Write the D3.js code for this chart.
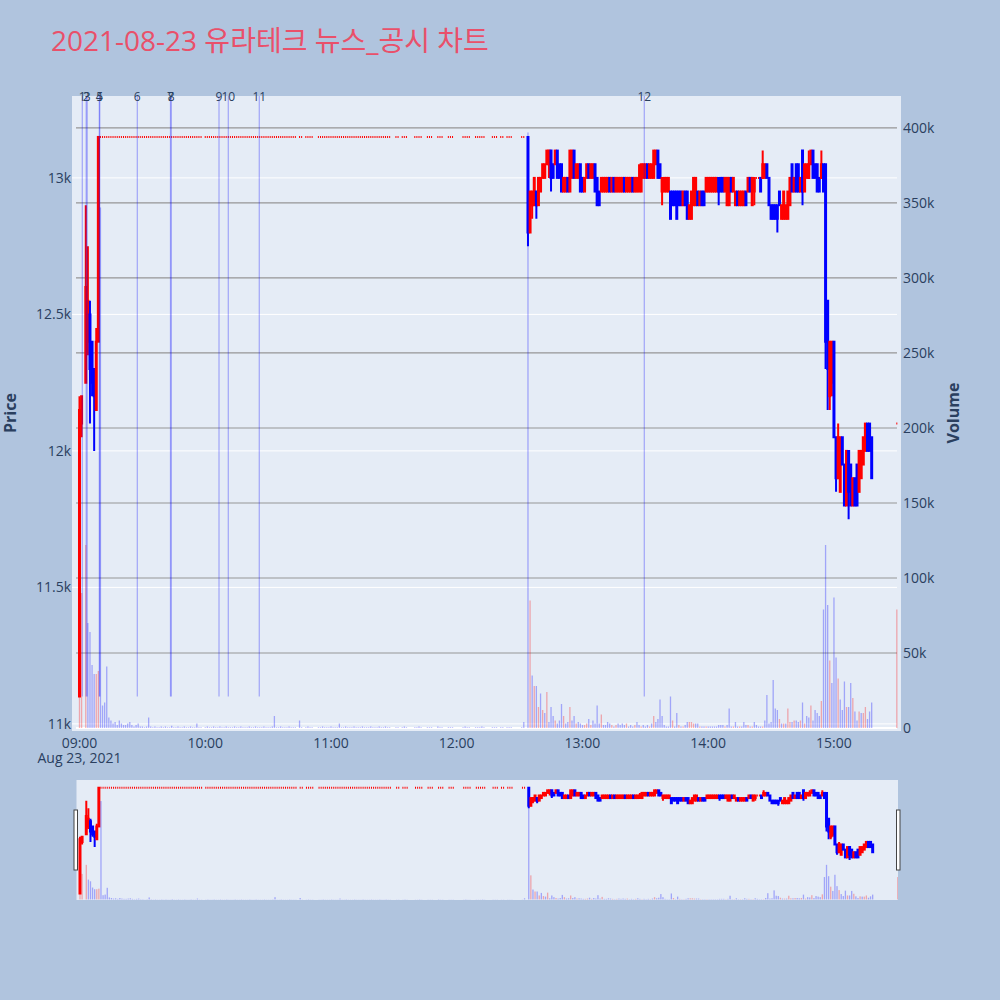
<!DOCTYPE html>
<html><head><meta charset="utf-8">
<script src="https://cdn.jsdelivr.net/npm/d3@7"></script>
<style>body{margin:0;background:#b0c4de;} svg{display:block;font-family:"Open Sans","Noto Sans CJK KR",sans-serif;}</style>
</head><body><svg id="c" width="1000" height="1000"></svg>
<script>
const chartTitle = "2021-08-23 유라테크 뉴스_공시 차트";
const day = "2021-08-23";
const dateLabel = "Aug 23, 2021";

// [time, open, high, low, close, volume(k)]
const openCandles = [
["09:00",11100,12200,11100,12150,92],
["09:01",12100,12200,12050,12200,90],
["09:03",12250,12900,12250,12600,122],
["09:04",12400,12750,12350,12550,70],
["09:05",12500,12550,12100,12300,64],
["09:06",12400,12400,12200,12250,42],
["09:07",12300,12300,12000,12200,36],
["09:08",12150,12450,12150,12400,36],
["09:09",12400,13150,12400,13150,38]
];

const limitPrice = 13150;
const limitRuns = [["09:10","09:58"],["10:00","10:43"],["10:45","10:46"],["10:48","10:51"],["10:54","11:28"],
["11:31","11:32"],["11:34","11:36"],["11:40","11:43"],["11:46","11:48"],["11:51","11:53"],["11:56","11:58"],
["12:03","12:06"],["12:09","12:13"],["12:17","12:19"],["12:21","12:22"],["12:24","12:26"],["12:31","12:32"]];
const limitVolumes = [
[347,15,17,41,7,5,3,4,2,5, 3,2,2,3,4,2,1,2,3,1, 1,.5,1,7,1,.5,1,.5,.5,1, .5,1,.5,.5,1.5,.5,.5,1,.5,.5, 1,.5,.5,1,.5,.5,3,.5,.5],
[.5,1,.5,.5,1,.5,.5,1,.5,.5, 1,.5,.5,.5,1,.5,.5,1,.5,.5, .5,1,.5,.5,1,.5,.5,.5,1,.5, .5,.5,1,8,.5,.5,1,.5,.5,.5, 1,.5,.5,.5],
[5,.5],[.5,1,.5,.5],
[.5,.5,1,.5,.5,.5,1,.5,.5,.5, 3,.5,.5,1,.5,.5,.5,1,.5,.5, .5,1,.5,.5,.5,1,.5,.5,.5,1, .5,.5,1,.5,.5],
[.5,.5],[.5,1,.5],[.5,.5,1,.5],[.5,.5,.5],[1,.5,.5],[.5,.5,.5],[.5,1,.5,.5],[.5,.5,.5,1,.5],[.5,.5,.5],[.5,.5],[.5,.5,.5],[.5,4]
];

const pmCandles = [
["12:34",13150,13150,12750,12800,397],["12:35",12800,12950,12800,12950,85],["12:36",12900,12950,12850,12950,35],
["12:37",12900,13000,12900,13000,28],["12:38",12950,12950,12850,12900,28],["12:39",12900,13000,12900,13000,14],
["12:40",12950,13000,12950,13000,23],["12:41",13000,13050,13000,13050,12],["12:42",13000,13050,13000,13050,10],
["12:43",13050,13100,13050,13100,24],["12:44",13050,13100,13000,13100,4],["12:45",13100,13100,12950,13000,14],
["12:46",13050,13050,13000,13000,8],["12:47",13050,13100,13050,13100,5],["12:48",13100,13100,13000,13000,3],
["12:49",13050,13050,13000,13000,5],["12:50",13050,13050,12950,12950,16],["12:51",12950,13000,12950,13000,8],
["12:52",12950,13000,12950,13000,3],["12:53",13000,13000,12950,12950,4],["12:54",12950,13100,12950,13100,14],
["12:55",13000,13100,13000,13100,5],["12:56",13100,13100,13000,13000,8],["12:57",13000,13050,13000,13050,3],
["12:58",13000,13050,13000,13050,4],["12:59",13050,13050,12950,12950,3],["13:00",13000,13000,12950,12950,2],
["13:01",12950,13000,12950,13000,2],["13:02",13000,13050,13000,13050,3],["13:03",13050,13050,13000,13000,6],
["13:04",13000,13050,13000,13050,2],["13:05",13000,13050,13000,13050,5],["13:06",13050,13050,12950,12950,3],
["13:07",13000,13000,12900,12900,15],["13:08",12950,12950,12900,12900,3],["13:09",12950,13000,12950,13000,9],
["13:10",12950,13000,12950,13000,2],["13:11",12950,13000,12950,13000,2],["13:12",12950,13000,12950,13000,4],
["13:13",13000,13000,12950,12950,3],["13:14",12950,13000,12950,13000,2],["13:15",13000,13000,12950,12950,1],
["13:16",12950,13000,12950,13000,2],["13:17",12950,13000,12950,13000,3],["13:18",12950,13000,12950,13000,2],
["13:19",12950,13000,12950,13000,3],["13:20",13000,13000,12950,12950,2],["13:21",12950,13000,12950,13000,3],
["13:22",12950,13000,12950,13000,1],["13:23",12950,13000,12950,13000,2],["13:24",13000,13000,12950,12950,1],
["13:25",12950,13000,12950,13000,2],["13:26",12950,13000,12950,13000,4],["13:27",12950,13050,12950,13000,2],
["13:28",12950,13050,12950,13050,1],["13:29",13000,13050,13000,13050,2],["13:30",13000,13050,13000,13050,1],
["13:31",13050,13050,13000,13000,2],["13:32",13000,13050,13000,13050,1],["13:33",13000,13050,13000,13050,3],
["13:34",13000,13100,13000,13100,8],["13:35",13050,13100,13050,13100,4],["13:36",13100,13100,13000,13000,6],
["13:37",13050,13050,13000,13000,19],["13:38",12950,13000,12900,13000,8],["13:39",12950,13000,12950,13000,2],
["13:40",12950,13000,12950,13000,1],["13:41",12950,13000,12950,13000,1],["13:42",12950,12950,12850,12850,21],
["13:43",12950,12950,12900,12900,5],["13:44",12950,12950,12900,12900,1],["13:45",12950,12950,12850,12850,10],
["13:46",12950,12950,12900,12900,2],["13:47",12950,12950,12900,12900,1],["13:48",12900,12950,12900,12950,1],
["13:49",12950,12950,12900,12900,2],["13:50",12950,12950,12850,12850,4],["13:51",12850,12900,12850,12900,4],
["13:52",12850,12950,12850,12950,4],["13:53",12900,13000,12900,13000,3],["13:54",12900,13000,12900,13000,3],
["13:55",12950,12950,12900,12900,3],["13:56",12900,12950,12900,12950,1],["13:57",12950,12950,12900,12900,1],
["13:58",12950,12950,12900,12900,1],["13:59",12950,13000,12950,13000,1],["14:00",12950,13000,12950,13000,1],
["14:01",12950,13000,12950,13000,1],["14:02",12950,13000,12950,13000,1],["14:03",12950,13000,12950,13000,1],
["14:04",12950,13000,12950,13000,1],["14:05",13000,13000,12900,12950,2],["14:06",13000,13000,12950,12950,2],
["14:07",13000,13000,12950,12950,2],["14:08",12950,13000,12950,13000,1],["14:09",12900,13000,12900,13000,2],
["14:10",12900,13000,12900,13000,13],["14:11",13000,13000,12950,12950,1],["14:12",12950,13000,12950,13000,1],
["14:13",12900,12950,12900,12950,4],["14:14",12950,12950,12900,12900,1],["14:15",12900,12950,12900,12950,1],
["14:16",12900,12950,12900,12950,1],["14:17",12900,12950,12900,12950,4],["14:18",12950,12950,12900,12900,2],
["14:19",12950,13000,12950,13000,2],["14:20",13000,13000,12950,12950,1],["14:21",12900,13000,12900,13000,1],
["14:22",12950,13000,12900,13000,4],["14:23",13000,13000,13000,13000,2],["14:24",13000,13000,13000,13000,1],
["14:25",13000,13000,12950,12950,1],["14:26",13000,13100,13000,13050,1],["14:27",13000,13050,13000,13050,5],
["14:28",13050,13050,13000,13000,22],["14:29",13000,13000,12900,12900,3],["14:30",12900,12900,12850,12850,4],
["14:31",12900,12900,12850,12850,32],["14:32",12900,12900,12850,12850,13],["14:33",12900,12900,12800,12850,12],
["14:34",12950,12950,12900,12900,6],["14:35",12850,12900,12850,12900,3],["14:36",12850,12950,12850,12950,3],
["14:37",12850,12900,12850,12900,3],["14:38",12850,12950,12850,12950,13],["14:39",12900,13000,12900,13000,4],
["14:40",13050,13050,12950,12950,4],["14:41",12950,13000,12950,13000,5],["14:42",13050,13050,12950,12950,5],
["14:43",13050,13050,12950,12950,4],["14:44",12950,13000,12950,13000,5],["14:45",13100,13100,12900,12950,17],
["14:46",12950,13050,12950,13050,3],["14:47",13000,13050,13000,13050,8],["14:48",13000,13100,13000,13050,7],
["14:49",13050,13100,13050,13100,15],["14:50",13100,13100,13000,13000,5],["14:51",13050,13050,13000,13000,12],
["14:52",13050,13050,12950,12950,10],["14:53",13000,13000,12950,12950,8],["14:54",13000,13100,13000,13050,18],
["14:55",13050,13050,12950,12950,79],["14:56",13050,13050,12300,12400,122],["14:57",12550,12550,12150,12300,82],
["14:58",12200,12400,12150,12400,45],["14:59",12250,12400,12200,12400,30],["15:00",12400,12400,12050,12050,87],
["15:01",12050,12050,11850,11900,47],["15:02",11900,12100,11900,12050,33],["15:03",11850,12050,11850,12050,19],
["15:04",12050,12050,11950,11950,12],["15:05",11950,11950,11800,11800,31],["15:06",11800,12000,11800,12000,14],
["15:07",12000,12000,11750,11850,14],["15:08",11950,11950,11800,11800,30],["15:09",11800,11900,11800,11900,20],
["15:10",11900,11900,11800,11800,11],["15:11",11950,11950,11800,11800,5],["15:12",11850,12000,11850,12000,11],
["15:13",11900,12000,11900,12000,10],["15:14",11950,12050,11950,12050,10],["15:15",12000,12100,12000,12100,14],
["15:16",12100,12100,12000,12000,6],["15:17",12100,12100,12000,12000,11],["15:18",12050,12050,11900,11900,17]
];
const closeCandle = ["15:30",12100,12100,12100,12100,79];

const newsTimes = ["09:01:20","09:03:12","09:03:40","09:09:27","09:09:41","09:27:35","09:43:25","09:43:48","10:06:34","10:11:00","10:25:47","13:29:30"];
const newsLabels = ["1","2","3","4","5","6","7","8","9","10","11","12"];
const newsLineLow = 11100;

const priceTicks = [11000,11500,12000,12500,13000];
const priceTickLabels = ["11k","11.5k","12k","12.5k","13k"];
const volumeTicks = [0,50,100,150,200,250,300,350,400];
const volumeTickLabels = ["0","50k","100k","150k","200k","250k","300k","350k","400k"];
const timeTicks = ["09:00","10:00","11:00","12:00","13:00","14:00","15:00"];
const priceDomain = [10974, 13300];
const volumeDomain = [-2, 421.3];
const timeDomain = ["08:58:20","15:30:05"];

const UP = "#ff0000", DOWN = "#0000ff", TXT = "#2a3f5f";

const fmt = d3.timeParse("%Y-%m-%d %H:%M:%S");
const parseT = t => fmt(`${day} ${t.length === 5 ? t + ":00" : t}`);

const rows = [];
const addRow = r => rows.push({t: parseT(r[0]), o: r[1], h: r[2], l: r[3], c: r[4], v: r[5]});
openCandles.forEach(addRow);
limitRuns.forEach((run, i) => {
  const mins = d3.timeMinute.range(parseT(run[0]), d3.timeMinute.offset(parseT(run[1]), 1));
  mins.forEach((t, j) => rows.push({t, o: limitPrice, h: limitPrice, l: limitPrice, c: limitPrice, v: limitVolumes[i][j] || 0}));
});
pmCandles.forEach(addRow);
addRow(closeCandle);
rows.sort((a, b) => a.t - b.t);
let prevC = null, prevDir = "up";
rows.forEach(r => {
  let dir;
  if (r.c > r.o) dir = "up";
  else if (r.c < r.o) dir = "down";
  else if (prevC !== null && r.c > prevC) dir = "up";
  else if (prevC !== null && r.c < prevC) dir = "down";
  else dir = prevDir;
  r.dir = dir;
  r.vdir = (prevC === null || r.c > prevC) ? "up" : "down";
  prevC = r.c; prevDir = dir;
});

const svg = d3.select("#c");
svg.append("rect").attr("width", 1000).attr("height", 1000).attr("fill", "#b0c4de");

const X0 = 76, X1 = 897, Y0 = 96, Y1 = 731;
const x = d3.scaleTime().domain(timeDomain.map(parseT)).range([X0, X1]);
const yP = d3.scaleLinear().domain(priceDomain).range([Y1, Y0]);
const yV = d3.scaleLinear().domain(volumeDomain).range([Y1, Y0]);

// title
svg.append("text").attr("x", 51).attr("y", 51).attr("font-size", 28).attr("fill", "#e9506a").text(chartTitle);

// plot bg
svg.append("rect").attr("x", 72).attr("y", Y0).attr("width", 901 - 72).attr("height", Y1 - Y0).attr("fill", "#e5ecf6");

const defs = svg.append("defs");
defs.append("clipPath").attr("id", "clipMain").append("rect").attr("x", 72).attr("y", Y0).attr("width", 901 - 72).attr("height", Y1 - Y0);
defs.append("clipPath").attr("id", "clipSlider").append("rect").attr("x", 76).attr("y", 780).attr("width", 822).attr("height", 120);

// grid
svg.append("g").selectAll("line").data(priceTicks).join("line")
  .attr("x1", 72).attr("x2", X1).attr("y1", d => yP(d)).attr("y2", d => yP(d))
  .attr("stroke", "#ffffff").attr("stroke-width", 1);
svg.append("g").selectAll("line").data(volumeTicks).join("line")
  .attr("x1", X0).attr("x2", X1).attr("y1", d => yV(d)).attr("y2", d => yV(d))
  .attr("stroke", d => d === 0 ? "#ffffff" : "#969696").attr("stroke-width", d => d === 0 ? 2 : 1.2);

const BW = 1.0, VW = 1.3;
function drawCandles(g, xs, ys) {
  g.selectAll("path").data(rows).join("path")
    .attr("d", r => {
      const cx = xs(r.t), yo = ys(r.o), yc = ys(r.c), yh = ys(r.h), yl = ys(r.l);
      const top = Math.min(yo, yc), bot = Math.max(yo, yc);
      let d = `M${cx - BW / 2},${yo}H${cx + BW / 2}V${yc}H${cx - BW / 2}Z`;
      if (yh < top) d += `M${cx},${yh}V${top}`;
      if (yl > bot) d += `M${cx},${yl}V${bot}`;
      return d;
    })
    .attr("fill", r => r.dir === "up" ? UP : DOWN)
    .attr("stroke", r => r.dir === "up" ? UP : DOWN)
    .attr("stroke-width", 2);
}
function drawVolume(g, xs, ys) {
  g.selectAll("rect").data(rows).join("rect")
    .attr("x", r => xs(r.t) - VW / 2).attr("width", VW)
    .attr("y", r => ys(r.v)).attr("height", r => Math.max(0, ys(0) - ys(r.v)))
    .attr("fill", r => r.vdir === "up" ? UP : DOWN).attr("opacity", 0.3);
}

const main = svg.append("g").attr("clip-path", "url(#clipMain)");
drawCandles(main.append("g"), x, yP);
drawVolume(main.append("g"), x, yV);

// news lines
main.append("g").selectAll("line").data(newsTimes).join("line")
  .attr("x1", d => x(parseT(d))).attr("x2", d => x(parseT(d)))
  .attr("y1", Y0).attr("y2", yP(newsLineLow))
  .attr("stroke", "#0000ff").attr("stroke-opacity", 0.3).attr("stroke-width", 1.2);
svg.append("g").selectAll("text").data(newsTimes).join("text")
  .attr("x", d => x(parseT(d))).attr("y", 97).attr("dy", "0.35em")
  .attr("text-anchor", "middle").attr("font-size", 12).attr("fill", TXT)
  .text((d, i) => newsLabels[i]);

// axes labels
svg.append("g").selectAll("text").data(priceTicks).join("text")
  .attr("x", 71).attr("y", d => yP(d)).attr("dy", "0.36em").attr("text-anchor", "end")
  .attr("font-size", 14).attr("fill", TXT).text((d, i) => priceTickLabels[i]);
svg.append("g").selectAll("text").data(volumeTicks).join("text")
  .attr("x", 903).attr("y", d => yV(d)).attr("dy", "0.36em").attr("text-anchor", "start")
  .attr("font-size", 14).attr("fill", TXT).text((d, i) => volumeTickLabels[i]);
svg.append("g").selectAll("text").data(timeTicks).join("text")
  .attr("x", d => x(parseT(d))).attr("y", 748).attr("text-anchor", "middle")
  .attr("font-size", 14).attr("fill", TXT).text(d => d);
svg.append("text").attr("x", x(parseT(timeTicks[0]))).attr("y", 763).attr("text-anchor", "middle")
  .attr("font-size", 14).attr("fill", TXT).text(dateLabel);
svg.append("text").attr("transform", "translate(10,413) rotate(-90)").attr("dy", "0.35em")
  .attr("text-anchor", "middle").attr("font-size", 16).attr("font-weight", "bold").attr("fill", TXT).text("Price");
svg.append("text").attr("transform", "translate(953,413) rotate(-90)").attr("dy", "0.35em")
  .attr("text-anchor", "middle").attr("font-size", 16).attr("font-weight", "bold").attr("fill", TXT).text("Volume");

// range slider
const SX0 = 76.5, SX1 = 898, SY0 = 780, SY1 = 900;
svg.append("rect").attr("x", SX0).attr("y", SY0).attr("width", SX1 - SX0).attr("height", SY1 - SY0).attr("fill", "#e5ecf6");
const xs = d3.scaleTime().domain(timeDomain.map(parseT)).range([SX0, SX1]);
const ysP = d3.scaleLinear().domain(priceDomain).range([SY1, SY0]);
const ysV = d3.scaleLinear().domain(volumeDomain).range([SY1, SY0]);
const slider = svg.append("g").attr("clip-path", "url(#clipSlider)");
drawCandles(slider.append("g"), xs, ysP);
drawVolume(slider.append("g"), xs, ysV);
[SX0 - 2.5, SX1 - 1.5].forEach(hx => {
  svg.append("rect").attr("x", hx).attr("y", 810).attr("width", 3.5).attr("height", 60)
    .attr("fill", "#ffffff").attr("stroke", "#444").attr("stroke-width", 1);
});
</script></body></html>
